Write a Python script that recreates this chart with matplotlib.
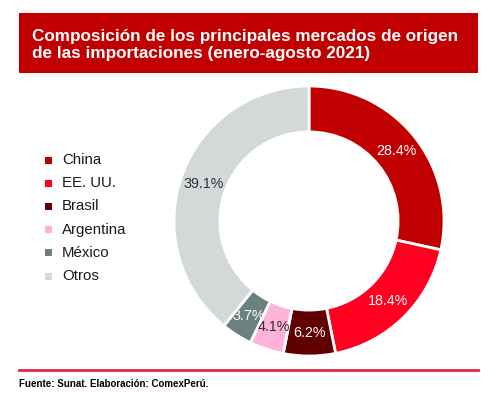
import matplotlib
matplotlib.use("Agg")
import matplotlib.pyplot as plt
import numpy as np
from matplotlib.patches import Rectangle
from matplotlib.lines import Line2D

plt.rcParams['font.family'] = ['Liberation Sans', 'DejaVu Sans']

categories = ["China", "EE. UU.", "Brasil", "Argentina", "México", "Otros"]
values = [28.4, 18.4, 6.2, 4.1, 3.7, 39.1]
colors = ["#C00000", "#FF0020", "#600000", "#FFB3D9", "#6B8080", "#D3D9D9"]
label_colors = ["white", "white", "white", "#2E2E3A", "white", "#2E2E3A"]
title = "Composición de los principales mercados de origen\nde las importaciones (enero-agosto 2021)"
source = "Fuente: Sunat. Elaboración: ComexPerú."

W, H = 491, 397
fig = plt.figure(figsize=(W / 100, H / 100), dpi=100)

def fx(x):
    return x / W

def fy(y):
    return 1 - y / H

# Title box
fig.patches.append(Rectangle((fx(19), fy(73)), fx(478) - fx(19), fy(13) - fy(73),
                             transform=fig.transFigure, facecolor="#C00000",
                             edgecolor="none", zorder=0))
fig.text(fx(32), fy(45), title, color="white", fontsize=12.3, fontweight="bold",
         va="center", ha="left", linespacing=1.2)

# Donut
cx, cy, r = 309, 221, 135
ax = fig.add_axes([fx(cx - r), fy(cy + r), 2 * r / W, 2 * r / H])
wedges, _ = ax.pie(
    values, colors=colors, startangle=90, counterclock=False, radius=1,
    wedgeprops=dict(width=0.34, edgecolor="white", linewidth=2))
for i, (w, v) in enumerate(zip(wedges, values)):
    ang = np.deg2rad((w.theta1 + w.theta2) / 2)
    x, y = 0.83 * np.cos(ang), 0.83 * np.sin(ang)
    ax.text(x, y, f"{v:.1f}%", ha="center", va="center", fontsize=10.3,
            color=label_colors[i])
ax.set_xlim(-1, 1)
ax.set_ylim(-1, 1)
ax.set_aspect("equal")
ax.axis("off")

# Legend
y0 = 160
for i, (c, col) in enumerate(zip(categories, colors)):
    yy = y0 + i * 23.2
    fig.patches.append(Rectangle((fx(45), fy(yy + 3.5)), 7 / W, 7 / H,
                                 transform=fig.transFigure, facecolor=col,
                                 edgecolor="none"))
    fig.text(fx(62), fy(yy), c, fontsize=10.8, color="#1A1A1A",
             va="center", ha="left")

# Footer
fig.lines.append(Line2D([fx(19), fx(478)], [fy(370), fy(370)],
                        transform=fig.transFigure, color="#E0284A", linewidth=2))
fig.text(fx(19), fy(384), source, fontsize=7, fontweight="bold",
         color="black", va="center", ha="left")

fig.savefig("out.png", dpi=100, facecolor="white")
